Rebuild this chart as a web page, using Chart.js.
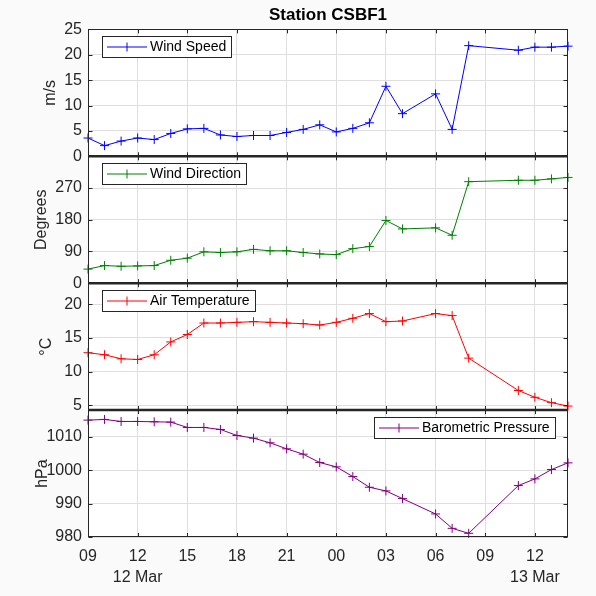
<!DOCTYPE html>
<html>
<head>
<meta charset="utf-8">
<title>Station CSBF1</title>
<script src="https://cdn.jsdelivr.net/npm/chart.js@4.4.1/dist/chart.umd.min.js"></script>
<style>
  html, body { margin: 0; padding: 0; background: #fafafa; }
  #wrap { width: 596px; height: 596px; position: relative; }
</style>
</head>
<body>
<div id="wrap"><canvas id="station"></canvas></div>
<script>
// ===== Data (hours after 12 Mar 09:00) =====
const hours = [0, 1, 2, 3, 4, 5, 6, 7, 8, 9, 10, 11, 12, 13, 14, 15, 16, 17, 18, 19, 21, 22, 23, 26, 27, 28, 29];

const windSpeed = [3.6, 2.1, 3.0, 3.6, 3.3, 4.5, 5.4, 5.5, 4.2, 3.9, 4.1, 4.1, 4.7, 5.3, 6.2, 4.8, 5.5, 6.6,
  13.8, 8.4, 12.3, 5.3, 21.8, 20.9, 21.5, 21.5, 21.7];
const windDirection = [40, 50, 48, 49, 50, 65, 71, 89, 87, 89, 96, 92, 92, 87, 83, 81, 98, 104,
  178, 154, 157, 136, 288, 292, 292, 296, 300];
const airTemperature = [12.8, 12.5, 11.9, 11.8, 12.5, 14.4, 15.5, 17.2, 17.2, 17.3, 17.4, 17.3, 17.2, 17.1, 16.9, 17.3, 17.9, 18.6,
  17.4, 17.5, 18.6, 18.3, 12.0, 7.2, 6.2, 5.4, 4.9];
const pressure = [1015.0, 1015.2, 1014.6, 1014.6, 1014.5, 1014.4, 1012.8, 1012.8, 1012.2, 1010.4, 1009.6, 1008.2, 1006.4, 1004.8, 1002.3, 1001.0, 998.1, 994.9,
  993.8, 991.5, 986.9, 982.6, 981.1, 995.4, 997.4, 1000.2, 1002.2];

// x ticks
const tickHours = [0, 3, 6, 9, 12, 15, 18, 21, 24, 27];
const tickLabels = ["09", "12", "15", "18", "21", "00", "03", "06", "09", "12"];
const dateLabels = ["", "12 Mar", "", "", "", "", "", "", "", "13 Mar"];

// y ticks per panel
const speedTicks = [0, 5, 10, 15, 20, 25];
const dirTicks = [0, 90, 180, 270];
const tempTicks = [5, 10, 15, 20];
const presTicks = [980, 990, 1000, 1010];

// ===== Styles =====
const FONT = '"Liberation Sans", Arial, Helvetica, sans-serif';
const AXIS = "#262626";
const GRID = "#dedede";
const TICK = 4;

function yAxis(title, min, max, tickVals, titleCenter) {
  return {
    type: "linear",
    position: "left",
    stack: "station",
    stackWeight: 1,
    min: min,
    max: max,
    afterFit: s => { s.width = 88; },
    afterBuildTicks: s => { s.ticks = tickVals.map(v => ({ value: v })); },
    grid: { color: GRID, drawTicks: false },
    border: { display: false },
    ticks: {
      color: AXIS,
      font: { family: FONT, size: 16 },
      padding: 6,
      autoSkip: false,
      callback: v => String(v)
    },
    title: {
      display: true,
      text: title,
      color: AXIS,
      font: { family: FONT, size: 16 },
      padding: { top: titleCenter - 9.6, bottom: 0 }
    }
  };
}

function series(label, data, color, axis) {
  return {
    label: label,
    data: hours.map((h, i) => ({ x: h, y: data[i] })),
    yAxisID: axis,
    borderColor: color,
    backgroundColor: color,
    borderWidth: 1,
    pointStyle: "cross",
    pointRadius: 4.5,
    pointBorderWidth: 1,
    pointHoverRadius: 4.5,
    tension: 0,
    clip: false
  };
}

// legend box side per panel, drawn inside the plot
const legendSpec = {
  ySpeed: "left",
  yDir: "left",
  yTemp: "left",
  yPres: "right"
};

const panelFrame = {
  id: "panelFrame",
  beforeDraw(chart) {
    const a = chart.chartArea;
    chart.ctx.save();
    chart.ctx.fillStyle = "#ffffff";
    chart.ctx.fillRect(a.left, a.top, a.width, a.height);
    chart.ctx.restore();
  },
  afterDatasetsDraw(chart) {
    const ctx = chart.ctx;
    const a = chart.chartArea;
    const xs = chart.scales.x;
    const ids = Object.keys(legendSpec);
    const L = Math.round(a.left) + 0.5;
    const R = Math.round(a.right) - 0.5;

    ctx.save();
    ctx.strokeStyle = AXIS;
    ctx.lineWidth = 1;
    ctx.beginPath();
    ids.forEach(id => {
      const s = chart.scales[id];
      s.ticks.forEach(t => {
        const py = Math.round(s.getPixelForValue(t.value)) + 0.5;
        ctx.moveTo(L, py); ctx.lineTo(L + TICK, py);
        ctx.moveTo(R, py); ctx.lineTo(R - TICK, py);
      });
      xs.ticks.forEach(t => {
        const px = Math.round(xs.getPixelForValue(t.value)) + 0.5;
        ctx.moveTo(px, s.top); ctx.lineTo(px, s.top + TICK);
        ctx.moveTo(px, s.bottom); ctx.lineTo(px, s.bottom - TICK);
      });
    });
    ctx.stroke();

    // outer frame
    ctx.strokeRect(L, Math.round(a.top) + 0.5, R - L, Math.round(a.bottom) - Math.round(a.top) - 1);

    // thick separators between panels
    ctx.lineWidth = 2.5;
    ctx.beginPath();
    ids.forEach(id => {
      const s = chart.scales[id];
      if (s.bottom < a.bottom - 2) {
        ctx.moveTo(a.left, s.bottom);
        ctx.lineTo(a.right, s.bottom);
      }
    });
    ctx.stroke();

    // legends
    chart.data.datasets.forEach(ds => {
      const s = chart.scales[ds.yAxisID];
      ctx.font = "14px " + FONT;
      const tw = ctx.measureText(ds.label).width;
      const w = Math.round(48 + tw + 6);
      const h = 22;
      const bx = legendSpec[ds.yAxisID] === "left" ? Math.round(a.left) + 14 : Math.round(a.right) - 12 - w;
      const by = Math.round(s.top) + 7;
      ctx.fillStyle = "#ffffff";
      ctx.fillRect(bx, by, w, h);
      ctx.lineWidth = 1;
      ctx.strokeStyle = AXIS;
      ctx.strokeRect(bx + 0.5, by + 0.5, w - 1, h - 1);
      const my = by + h / 2;
      ctx.strokeStyle = ds.borderColor;
      ctx.beginPath();
      ctx.moveTo(bx + 5, my); ctx.lineTo(bx + 45, my);
      ctx.moveTo(bx + 25, my - 4.5); ctx.lineTo(bx + 25, my + 4.5);
      ctx.stroke();
      ctx.fillStyle = "#000000";
      ctx.textBaseline = "middle";
      ctx.textAlign = "left";
      ctx.fillText(ds.label, bx + 48, my + 0.5);
    });
    ctx.restore();
  }
};

new Chart(document.getElementById("station"), {
  type: "line",
  data: {
    datasets: [
      series("Wind Speed", windSpeed, "#0000ff", "ySpeed"),
      series("Wind Direction", windDirection, "#008000", "yDir"),
      series("Air Temperature", airTemperature, "#ff0000", "yTemp"),
      series("Barometric Pressure", pressure, "#800080", "yPres")
    ]
  },
  options: {
    responsive: true,
    maintainAspectRatio: false,
    animation: false,
    events: [],
    layout: { padding: { left: 0, right: 28, top: 0, bottom: 0 } },
    plugins: {
      legend: { display: false },
      tooltip: { enabled: false },
      title: {
        display: true,
        fullSize: false,
        text: "Station CSBF1",
        color: "#000000",
        font: { family: FONT, size: 17, weight: "bold" },
        padding: { top: 5, bottom: 4 }
      }
    },
    scales: {
      x: {
        type: "linear",
        min: 0,
        max: 29,
        afterBuildTicks: s => { s.ticks = tickHours.map(v => ({ value: v })); },
        afterFit: s => { s.height = 59; },
        grid: { color: GRID, drawTicks: false },
        border: { display: false },
        ticks: {
          color: AXIS,
          font: { family: FONT, size: 16, lineHeight: 1.3 },
          padding: 9,
          maxRotation: 0,
          autoSkip: false,
          callback: (v, i) => dateLabels[i] ? [tickLabels[i], dateLabels[i]] : tickLabels[i]
        }
      },
      // left stacks are laid out bottom-up, so the lowest panel comes first
      yPres: yAxis("hPa", 980, 1018, presTicks, 43),
      yTemp: yAxis("\u00B0C", 4.3, 23.1, tempTicks, 47),
      yDir: yAxis("Degrees", 0, 360, dirTicks, 42),
      ySpeed: yAxis("m/s", 0, 25, speedTicks, 51)
    }
  },
  plugins: [panelFrame]
});
</script>
</body>
</html>
